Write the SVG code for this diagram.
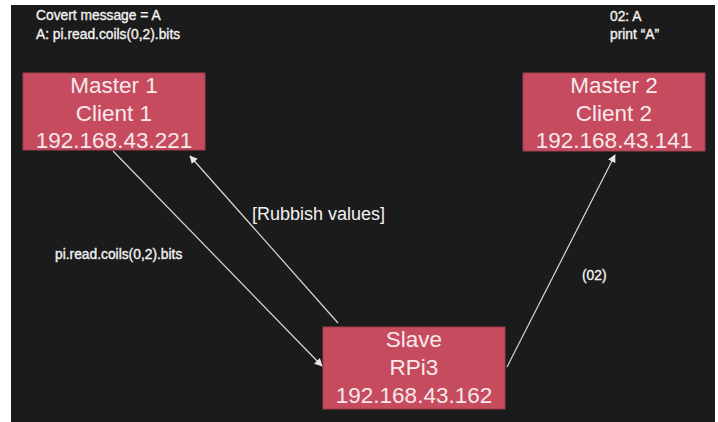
<svg xmlns="http://www.w3.org/2000/svg" width="718" height="422" viewBox="0 0 718 422">
  <defs>
    <marker id="head" viewBox="0 0 10 10" refX="9" refY="5" markerWidth="8" markerHeight="8" markerUnits="userSpaceOnUse" orient="auto">
      <path d="M0,0 L10,5 L0,10 z" fill="#e6e6e6"/>
    </marker>
    <style>
      .node rect { fill: #c64b5e; stroke: #a53e4f; stroke-width: 1; }
      .node text { font-family: "Liberation Sans", Arial, sans-serif; font-size: 22.5px; fill: #f7e9eb; text-anchor: middle; }
      .note { font-family: "Liberation Sans", Arial, sans-serif; font-size: 13.8px; fill: #f2f2f2; stroke: #f2f2f2; stroke-width: 0.35; }
      .label { font-family: "Liberation Sans", Arial, sans-serif; font-size: 18px; fill: #f2f2f2; }
      .edge { stroke: #d9d9d9; stroke-width: 1.2; fill: none; marker-end: url(#head); }
    </style>
  </defs>

  <!-- page -->
  <rect x="0" y="0" width="718" height="422" fill="#ffffff"/>
  <rect x="11" y="5" width="704" height="417" fill="#1b1b1b"/>

  <!-- notes -->
  <text class="note" x="36" y="20">Covert message = A</text>
  <text class="note" x="36" y="39">A: pi.read.coils(0,2).bits</text>
  <text class="note" x="610" y="21">02: A</text>
  <text class="note" x="610" y="39">print “A”</text>

  <!-- connectors -->
  <g id="connectors">
    <line class="edge" x1="113" y1="151" x2="322" y2="366"/>
    <line class="edge" x1="338" y1="323" x2="190" y2="156"/>
    <line class="edge" x1="507" y1="367" x2="615" y2="155"/>
    <text class="label" x="252" y="220">[Rubbish values]</text>
    <text class="note" x="55" y="259">pi.read.coils(0,2).bits</text>
    <text class="note" x="582" y="280">(02)</text>
  </g>

  <!-- nodes -->
  <g id="master1" class="node">
    <rect x="23" y="73" width="182" height="77"/>
    <text x="114" y="93">Master 1</text>
    <text x="114" y="121">Client 1</text>
    <text x="114" y="148">192.168.43.221</text>
  </g>
  <g id="master2" class="node">
    <rect x="523" y="73" width="182" height="78"/>
    <text x="614" y="93">Master 2</text>
    <text x="614" y="121">Client 2</text>
    <text x="614" y="148">192.168.43.141</text>
  </g>
  <g id="slave" class="node">
    <rect x="323" y="327" width="182" height="82"/>
    <text x="414" y="347">Slave</text>
    <text x="414" y="375">RPi3</text>
    <text x="414" y="403">192.168.43.162</text>
  </g>
</svg>
